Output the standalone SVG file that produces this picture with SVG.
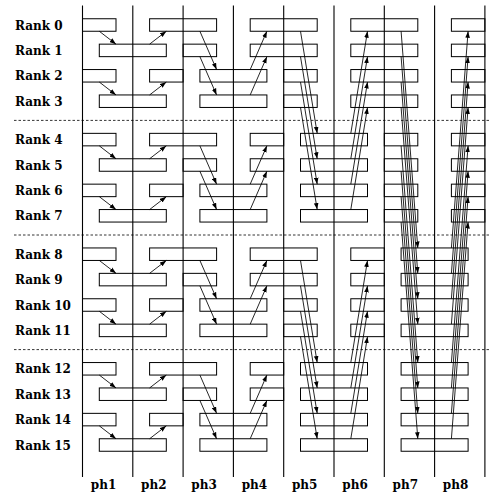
<svg xmlns="http://www.w3.org/2000/svg" width="490" height="496" viewBox="0 0 490 496">
<style>
.vl{stroke:#000;stroke-width:1.1;fill:none}
.dl{stroke:#000;stroke-width:0.8;stroke-dasharray:2.5 2;fill:none}
.b rect{fill:none;stroke:#000;stroke-width:1}
.t{font-family:"DejaVu Serif","Liberation Serif",serif;font-weight:bold;font-size:12px;fill:#000}
.ph{text-anchor:middle}
#connectors path{stroke:#000;stroke-width:0.85;fill:none;marker-end:url(#ah)}
</style>
<defs>
<marker id="ah" markerUnits="userSpaceOnUse" markerWidth="7" markerHeight="5" refX="6.5" refY="2.5" orient="auto">
<path d="M0,0.2 L6.5,2.5 L0,4.8 z" fill="#000"/>
</marker>
</defs>
<rect width="490" height="496" fill="#fff"/>
<g id="grid">
<path class="vl" d="M82.5,5.5V477 M132.8,5.5V477 M183.1,5.5V477 M233.4,5.5V477 M283.7,5.5V477 M334,5.5V477 M384.3,5.5V477 M434.6,5.5V477 M484.9,5.5V477"/>
<path class="dl" d="M14,120.4H490 M14,235H490 M14,349.6H490"/>
</g>
<g id="labels">
<text class="t" x="15" y="29.5">Rank 0</text>
<text class="t" x="15" y="54.9">Rank 1</text>
<text class="t" x="15" y="80.3">Rank 2</text>
<text class="t" x="15" y="105.7">Rank 3</text>
<text class="t" x="15" y="144.1">Rank 4</text>
<text class="t" x="15" y="169.5">Rank 5</text>
<text class="t" x="15" y="194.9">Rank 6</text>
<text class="t" x="15" y="220.3">Rank 7</text>
<text class="t" x="15" y="258.7">Rank 8</text>
<text class="t" x="15" y="284.1">Rank 9</text>
<text class="t" x="15" y="309.5">Rank 10</text>
<text class="t" x="15" y="334.9">Rank 11</text>
<text class="t" x="15" y="373.3">Rank 12</text>
<text class="t" x="15" y="398.7">Rank 13</text>
<text class="t" x="15" y="424.1">Rank 14</text>
<text class="t" x="15" y="449.5">Rank 15</text>
<text class="t ph" x="103.5" y="489">ph1</text>
<text class="t ph" x="153.8" y="489">ph2</text>
<text class="t ph" x="204.1" y="489">ph3</text>
<text class="t ph" x="254.4" y="489">ph4</text>
<text class="t ph" x="304.7" y="489">ph5</text>
<text class="t ph" x="355" y="489">ph6</text>
<text class="t ph" x="405.3" y="489">ph7</text>
<text class="t ph" x="455.6" y="489">ph8</text>
</g>
<g id="r0" class="b"><rect x="82.5" y="18.75" width="33.5" height="12.5"/><rect x="149.6" y="18.75" width="67" height="12.5"/><rect x="250.2" y="18.75" width="67" height="12.5"/><rect x="350.8" y="18.75" width="67" height="12.5"/><rect x="451.4" y="18.75" width="33.5" height="12.5"/></g>
<g id="r1" class="b"><rect x="99.3" y="44.15" width="67" height="12.5"/><rect x="183.1" y="44.15" width="33.5" height="12.5"/><rect x="250.2" y="44.15" width="67" height="12.5"/><rect x="350.8" y="44.15" width="67" height="12.5"/><rect x="451.4" y="44.15" width="33.5" height="12.5"/></g>
<g id="r2" class="b"><rect x="82.5" y="69.55" width="33.5" height="12.5"/><rect x="149.6" y="69.55" width="33.5" height="12.5"/><rect x="199.9" y="69.55" width="67" height="12.5"/><rect x="283.7" y="69.55" width="33.5" height="12.5"/><rect x="350.8" y="69.55" width="67" height="12.5"/><rect x="451.4" y="69.55" width="33.5" height="12.5"/></g>
<g id="r3" class="b"><rect x="99.3" y="94.95" width="67" height="12.5"/><rect x="199.9" y="94.95" width="67" height="12.5"/><rect x="283.7" y="94.95" width="33.5" height="12.5"/><rect x="350.8" y="94.95" width="67" height="12.5"/><rect x="451.4" y="94.95" width="33.5" height="12.5"/></g>
<g id="r4" class="b"><rect x="82.5" y="133.35" width="33.5" height="12.5"/><rect x="149.6" y="133.35" width="67" height="12.5"/><rect x="250.2" y="133.35" width="33.5" height="12.5"/><rect x="300.5" y="133.35" width="67" height="12.5"/><rect x="384.3" y="133.35" width="33.5" height="12.5"/><rect x="451.4" y="133.35" width="33.5" height="12.5"/></g>
<g id="r5" class="b"><rect x="99.3" y="158.75" width="67" height="12.5"/><rect x="183.1" y="158.75" width="33.5" height="12.5"/><rect x="250.2" y="158.75" width="33.5" height="12.5"/><rect x="300.5" y="158.75" width="67" height="12.5"/><rect x="384.3" y="158.75" width="33.5" height="12.5"/><rect x="451.4" y="158.75" width="33.5" height="12.5"/></g>
<g id="r6" class="b"><rect x="82.5" y="184.15" width="33.5" height="12.5"/><rect x="149.6" y="184.15" width="33.5" height="12.5"/><rect x="199.9" y="184.15" width="67" height="12.5"/><rect x="300.5" y="184.15" width="67" height="12.5"/><rect x="384.3" y="184.15" width="33.5" height="12.5"/><rect x="451.4" y="184.15" width="33.5" height="12.5"/></g>
<g id="r7" class="b"><rect x="99.3" y="209.55" width="67" height="12.5"/><rect x="199.9" y="209.55" width="67" height="12.5"/><rect x="300.5" y="209.55" width="67" height="12.5"/><rect x="384.3" y="209.55" width="33.5" height="12.5"/><rect x="451.4" y="209.55" width="33.5" height="12.5"/></g>
<g id="r8" class="b"><rect x="82.5" y="247.95" width="33.5" height="12.5"/><rect x="149.6" y="247.95" width="67" height="12.5"/><rect x="250.2" y="247.95" width="67" height="12.5"/><rect x="350.8" y="247.95" width="33.5" height="12.5"/><rect x="401.1" y="247.95" width="67" height="12.5"/></g>
<g id="r9" class="b"><rect x="99.3" y="273.35" width="67" height="12.5"/><rect x="183.1" y="273.35" width="33.5" height="12.5"/><rect x="250.2" y="273.35" width="67" height="12.5"/><rect x="350.8" y="273.35" width="33.5" height="12.5"/><rect x="401.1" y="273.35" width="67" height="12.5"/></g>
<g id="r10" class="b"><rect x="82.5" y="298.75" width="33.5" height="12.5"/><rect x="149.6" y="298.75" width="33.5" height="12.5"/><rect x="199.9" y="298.75" width="67" height="12.5"/><rect x="283.7" y="298.75" width="33.5" height="12.5"/><rect x="350.8" y="298.75" width="33.5" height="12.5"/><rect x="401.1" y="298.75" width="67" height="12.5"/></g>
<g id="r11" class="b"><rect x="99.3" y="324.15" width="67" height="12.5"/><rect x="199.9" y="324.15" width="67" height="12.5"/><rect x="283.7" y="324.15" width="33.5" height="12.5"/><rect x="350.8" y="324.15" width="33.5" height="12.5"/><rect x="401.1" y="324.15" width="67" height="12.5"/></g>
<g id="r12" class="b"><rect x="82.5" y="362.55" width="33.5" height="12.5"/><rect x="149.6" y="362.55" width="67" height="12.5"/><rect x="250.2" y="362.55" width="33.5" height="12.5"/><rect x="300.5" y="362.55" width="67" height="12.5"/><rect x="401.1" y="362.55" width="67" height="12.5"/></g>
<g id="r13" class="b"><rect x="99.3" y="387.95" width="67" height="12.5"/><rect x="183.1" y="387.95" width="33.5" height="12.5"/><rect x="250.2" y="387.95" width="33.5" height="12.5"/><rect x="300.5" y="387.95" width="67" height="12.5"/><rect x="401.1" y="387.95" width="67" height="12.5"/></g>
<g id="r14" class="b"><rect x="82.5" y="413.35" width="33.5" height="12.5"/><rect x="149.6" y="413.35" width="33.5" height="12.5"/><rect x="199.9" y="413.35" width="67" height="12.5"/><rect x="300.5" y="413.35" width="67" height="12.5"/><rect x="401.1" y="413.35" width="67" height="12.5"/></g>
<g id="r15" class="b"><rect x="99.3" y="438.75" width="67" height="12.5"/><rect x="199.9" y="438.75" width="67" height="12.5"/><rect x="300.5" y="438.75" width="67" height="12.5"/><rect x="401.1" y="438.75" width="67" height="12.5"/></g>
<g id="connectors">
<path d="M99.3,31.25L116,44.15"/><path d="M99.3,82.05L116,94.95"/><path d="M99.3,145.85L116,158.75"/><path d="M99.3,196.65L116,209.55"/><path d="M99.3,260.45L116,273.35"/><path d="M99.3,311.25L116,324.15"/><path d="M99.3,375.05L116,387.95"/><path d="M99.3,425.85L116,438.75"/>
<path d="M149.6,44.15L166.3,31.25"/><path d="M149.6,94.95L166.3,82.05"/><path d="M149.6,158.75L166.3,145.85"/><path d="M149.6,209.55L166.3,196.65"/><path d="M149.6,273.35L166.3,260.45"/><path d="M149.6,324.15L166.3,311.25"/><path d="M149.6,387.95L166.3,375.05"/><path d="M149.6,438.75L166.3,425.85"/>
<path d="M199.9,31.25L216.6,69.55"/><path d="M199.9,56.65L216.6,94.95"/><path d="M199.9,145.85L216.6,184.15"/><path d="M199.9,171.25L216.6,209.55"/><path d="M199.9,260.45L216.6,298.75"/><path d="M199.9,285.85L216.6,324.15"/><path d="M199.9,375.05L216.6,413.35"/><path d="M199.9,400.45L216.6,438.75"/>
<path d="M250.2,69.55L266.9,31.25"/><path d="M250.2,94.95L266.9,56.65"/><path d="M250.2,184.15L266.9,145.85"/><path d="M250.2,209.55L266.9,171.25"/><path d="M250.2,298.75L266.9,260.45"/><path d="M250.2,324.15L266.9,285.85"/><path d="M250.2,413.35L266.9,375.05"/><path d="M250.2,438.75L266.9,400.45"/>
<path d="M300.5,31.25L317.2,133.35"/><path d="M300.5,56.65L317.2,158.75"/><path d="M300.5,82.05L317.2,184.15"/><path d="M300.5,107.45L317.2,209.55"/><path d="M300.5,260.45L317.2,362.55"/><path d="M300.5,285.85L317.2,387.95"/><path d="M300.5,311.25L317.2,413.35"/><path d="M300.5,336.65L317.2,438.75"/>
<path d="M350.8,133.35L367.5,31.25"/><path d="M350.8,158.75L367.5,56.65"/><path d="M350.8,184.15L367.5,82.05"/><path d="M350.8,209.55L367.5,107.45"/><path d="M350.8,362.55L367.5,260.45"/><path d="M350.8,387.95L367.5,285.85"/><path d="M350.8,413.35L367.5,311.25"/><path d="M350.8,438.75L367.5,336.65"/>
<path d="M401.1,31.25L417.8,247.95"/><path d="M401.1,56.65L417.8,273.35"/><path d="M401.1,82.05L417.8,298.75"/><path d="M401.1,107.45L417.8,324.15"/><path d="M401.1,145.85L417.8,362.55"/><path d="M401.1,171.25L417.8,387.95"/><path d="M401.1,196.65L417.8,413.35"/><path d="M401.1,222.05L417.8,438.75"/>
<path d="M451.4,247.95L468.1,31.25"/><path d="M451.4,273.35L468.1,56.65"/><path d="M451.4,298.75L468.1,82.05"/><path d="M451.4,324.15L468.1,107.45"/><path d="M451.4,362.55L468.1,145.85"/><path d="M451.4,387.95L468.1,171.25"/><path d="M451.4,413.35L468.1,196.65"/><path d="M451.4,438.75L468.1,222.05"/>
</g>
</svg>
